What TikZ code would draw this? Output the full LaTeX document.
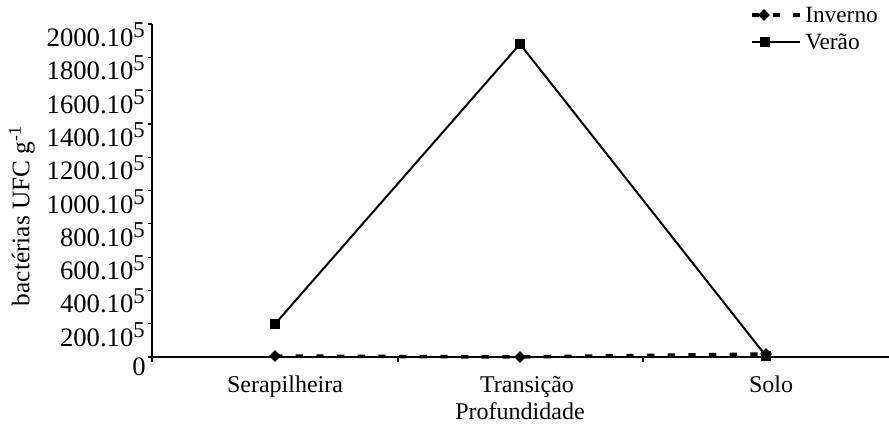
\documentclass[tikz,border=0pt]{standalone}
\usepackage{fontspec}
\setmainfont{Liberation Serif}
\usetikzlibrary{shapes.geometric}
\newcommand\ticklab[1]{#1.10\raisebox{6.75pt}{\fontsize{17pt}{18pt}\selectfont 5}}
\begin{document}
\begin{tikzpicture}[x=0.75pt,y=-0.75pt,
  axisline/.style={line width=1.1pt},
  tickline/.style={line width=0.9pt},
  verao/.style={line width=1.5pt},
  inverno/.style={line width=2.6pt,dash pattern=on 5.5pt off 10pt},
  sqmark/.style={rectangle,fill=black,inner sep=0pt,minimum size=7.5pt},
  dmmark/.style={diamond,fill=black,inner sep=0pt,minimum width=9pt,minimum height=9pt},
  ticktext/.style={font=\fontsize{20pt}{22pt}\selectfont,inner sep=0pt,anchor=base east},
  cattext/.style={font=\fontsize{18pt}{20pt}\selectfont,inner sep=0pt,anchor=base},
  legtext/.style={font=\fontsize{17.5pt}{20pt}\selectfont,inner sep=0pt,anchor=base west}]
\useasboundingbox (0,0) rectangle (889,425);
% axes
\coordinate (top) at (152,24);
\coordinate (orig) at (152,357);
\coordinate (xend) at (889,357);
\draw[axisline] (top) -- (orig) -- (xend);
\foreach \i in {0,...,10} {
  \draw[tickline] (148,{357-33.3*\i}) -- (152,{357-33.3*\i});
}
\foreach \xx in {152,398,643} {
  \draw[tickline] (\xx,357) -- (\xx,362);
}
% y tick labels
\node[ticktext] (t0) at (146,375) {0};
\foreach \i/\v in {1/200,2/400,3/600,4/800,5/1000,6/1200,7/1400,8/1600,9/1800,10/2000} {
  \node[ticktext] (t\i) at (145,{357-33.3*\i+22.5}) {\ticklab{\v}};
}
% axis titles
\node[font=\fontsize{19pt}{22pt}\selectfont,rotate=90,inner sep=0pt] (ytitle) at (22,216) {bactérias UFC g\textsuperscript{-1}};
\node[cattext] (c1) at (285,392) {Serapilheira};
\node[cattext] (c2) at (527,392) {Transição};
\node[cattext] (c3) at (771,392) {Solo};
\node[cattext] (xtitle) at (520,419) {Profundidade};
% Inverno
\coordinate (i1) at (275,356);
\coordinate (i2) at (520,357);
\coordinate (i3) at (766,354);
\draw[inverno] (i1) -- (i2) -- (i3);
\foreach \p in {i1,i2,i3} { \node[dmmark] at (\p) {}; }
% Verao
\coordinate (v1) at (275,324);
\coordinate (v2) at (520,44);
\coordinate (v3) at (766,356);
\draw[verao] (v1) -- (v2) -- (v3);
\foreach \p in {v1,v2,v3} { \node[sqmark] at (\p) {}; }
% legend
\coordinate (la) at (752,15);
\coordinate (lb) at (800,15);
\draw[inverno] (la) -- (lb);
\node[dmmark] (ld) at (764,15) {};
\node[legtext] (linv) at (805,22) {Inverno};
\coordinate (lc) at (752,42);
\coordinate (ld2) at (800,42);
\draw[verao] (lc) -- (ld2);
\node[sqmark] (ls) at (765,42) {};
\node[legtext] (lver) at (805,49) {Verão};
\end{tikzpicture}
\end{document}
